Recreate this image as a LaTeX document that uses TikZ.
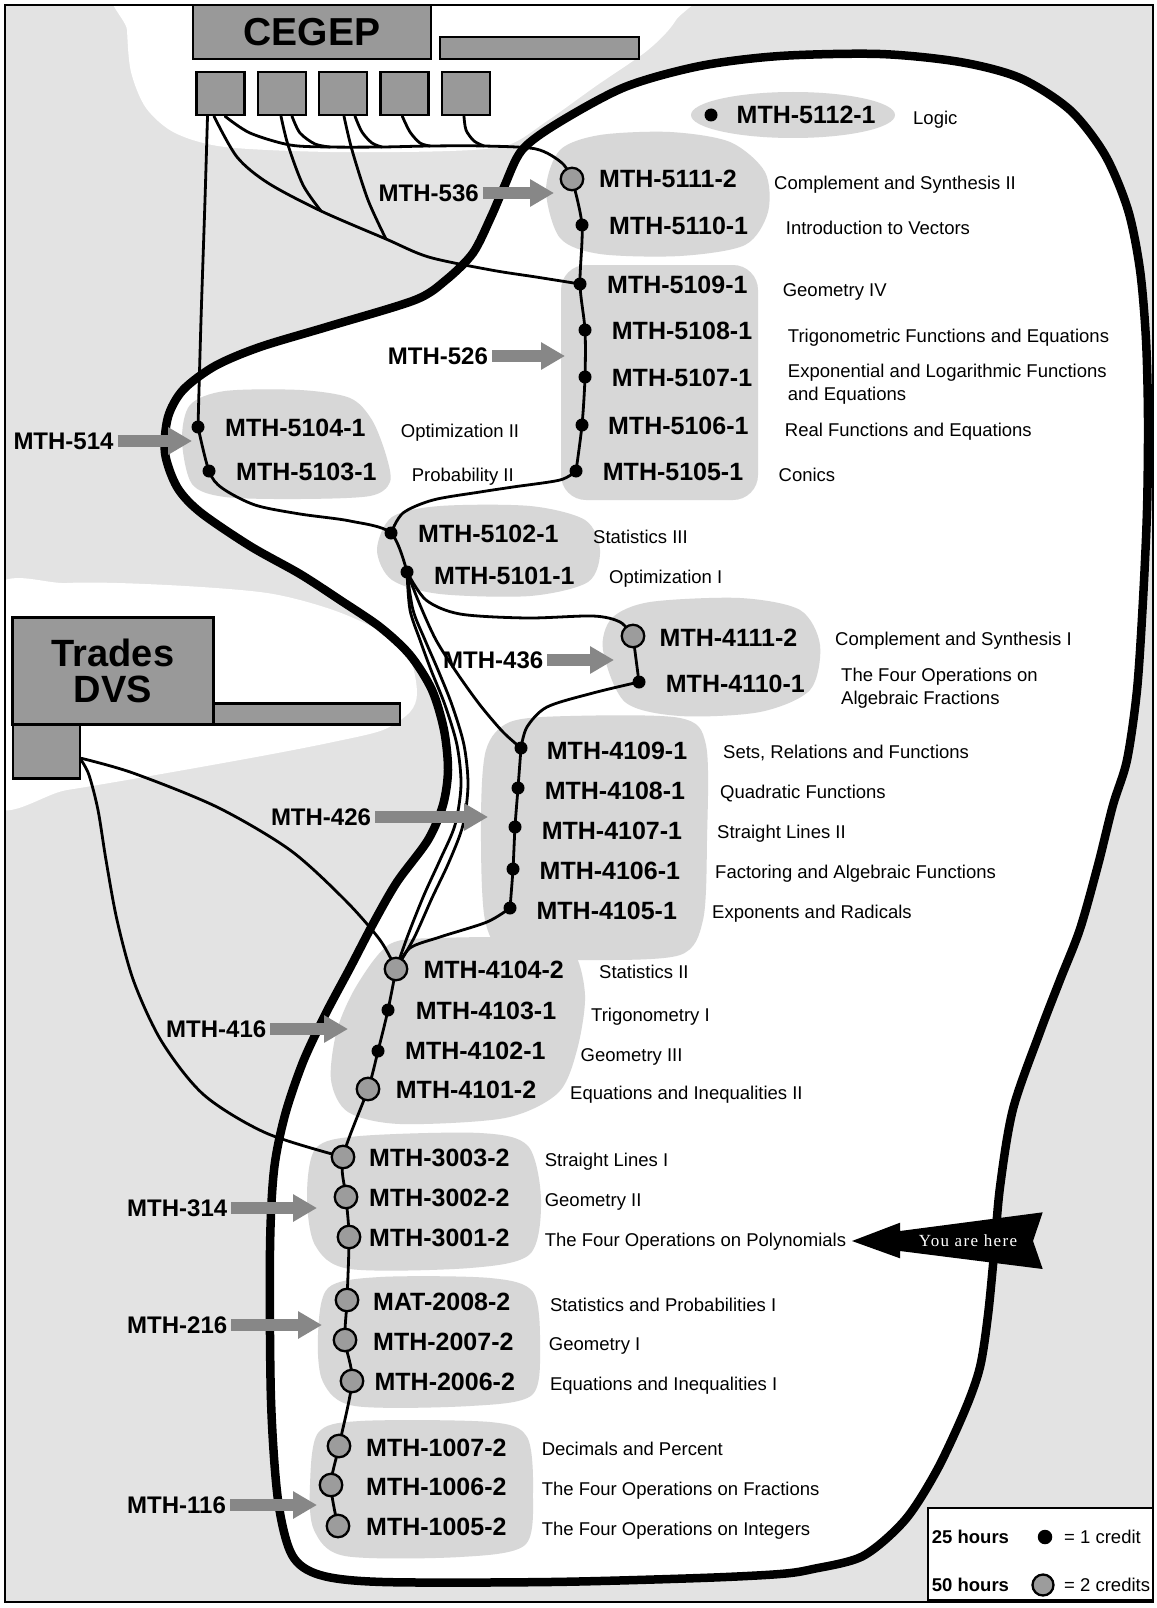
\documentclass[tikz,border=0pt]{standalone}
\usepackage{fontspec}
\setmainfont{Liberation Sans}
\newfontfamily\yahfont[LetterSpace=8]{Liberation Serif}
\usetikzlibrary{arrows.meta,calc}
\definecolor{bgg}{HTML}{E3E3E3}
\definecolor{blobg}{HTML}{D7D7D7}
\definecolor{boxg}{HTML}{999999}
\definecolor{arrg}{HTML}{878787}
\definecolor{dotg}{HTML}{9C9C9C}
\pgfdeclarelayer{bg}
\pgfdeclarelayer{lines}
\pgfsetlayers{bg,lines,main}
\begin{document}
\begin{tikzpicture}[x=1pt,y=-1pt,
  bdot/.style={circle,fill=black,inner sep=0pt,minimum size=13pt},
  gdot/.style={circle,fill=dotg,draw=black,line width=2.3pt,inner sep=0pt,minimum size=22.5pt},
  cdlab/.style={anchor=base west,inner sep=0pt,font=\fontsize{25}{30}\selectfont\bfseries},
  dslab/.style={anchor=base west,inner sep=0pt,font=\fontsize{18.5}{22.5}\selectfont},
  arlab/.style={anchor=base west,inner sep=0pt,font=\fontsize{24}{28}\selectfont\bfseries},
  cline/.style={line width=2.8pt,line join=round,line cap=round},
  garrow/.style={draw=arrg,line width=12pt,-{Triangle[length=24pt,width=26pt]}},
  blobf/.style={fill=blobg},
  gbox/.style={draw=black,fill=boxg,line width=2.5pt,inner sep=0pt}]
\useasboundingbox (0,0) rectangle (1156,1608);

% ---------- boxes ----------
\node[gbox,minimum width=238pt,minimum height=54pt,font=\fontsize{39}{39}\selectfont\bfseries] (cegep) at (312,32) {CEGEP};
\node[gbox,minimum width=199pt,minimum height=22pt] (cbar) at (539.5,48) {};
\node[gbox,minimum width=48pt,minimum height=43pt] (cb1) at (220.5,93.5) {};
\node[gbox,minimum width=48pt,minimum height=43pt] (cb2) at (282,93.5) {};
\node[gbox,minimum width=48pt,minimum height=43pt] (cb3) at (343,93.5) {};
\node[gbox,minimum width=48pt,minimum height=43pt] (cb4) at (404.3,93.5) {};
\node[gbox,minimum width=48pt,minimum height=43pt] (cb5) at (466,93.5) {};
\node[gbox,minimum width=200.6pt,minimum height=106.6pt,align=center,font=\fontsize{38}{36.7}\selectfont\bfseries] (trades) at (113,671) {Trades\\DVS};
\node[gbox,minimum width=186.7pt,minimum height=21pt] (tbar) at (306.7,713.8) {};
\node[gbox,minimum width=67.3pt,minimum height=54pt] (dvs) at (46.4,751.3) {};

% ---------- course dots ----------
\node[bdot] (c5112) at (711,115) {};
\node[gdot] (c5111) at (572,179) {};
\node[bdot] (c5110) at (582,225) {};
\node[bdot] (c5109) at (580,284) {};
\node[bdot] (c5108) at (585,330) {};
\node[bdot] (c5107) at (585,377) {};
\node[bdot] (c5106) at (582,425) {};
\node[bdot] (c5105) at (576,471) {};
\node[bdot] (c5104) at (198,427) {};
\node[bdot] (c5103) at (209,471) {};
\node[bdot] (c5102) at (391,533) {};
\node[bdot] (c5101) at (407,572) {};
\node[gdot] (c4111) at (633,636) {};
\node[bdot] (c4110) at (639,682) {};
\node[bdot] (c4109) at (521,748) {};
\node[bdot] (c4108) at (518,788) {};
\node[bdot] (c4107) at (515,827) {};
\node[bdot] (c4106) at (513,869) {};
\node[bdot] (c4105) at (510,908) {};
\node[gdot] (c4104) at (396,969) {};
\node[bdot] (c4103) at (388,1010) {};
\node[bdot] (c4102) at (378,1051) {};
\node[gdot] (c4101) at (368,1089) {};
\node[gdot] (c3003) at (343,1157) {};
\node[gdot] (c3002) at (346,1197) {};
\node[gdot] (c3001) at (349,1237) {};
\node[gdot] (c2008) at (347,1300) {};
\node[gdot] (c2007) at (345,1340) {};
\node[gdot] (c2006) at (352,1381) {};
\node[gdot] (c1007) at (339,1446) {};
\node[gdot] (c1006) at (331,1485) {};
\node[gdot] (c1005) at (338,1526) {};

% ---------- course codes ----------
\node[cdlab] (l5112) at (736.5,124) {MTH-5112-1};
\node[cdlab] (l5111) at (599,188) {MTH-5111-2};
\node[cdlab] (l5110) at (609,234) {MTH-5110-1};
\node[cdlab] (l5109) at (607,293) {MTH-5109-1};
\node[cdlab] (l5108) at (611.7,339) {MTH-5108-1};
\node[cdlab] (l5107) at (611.7,386) {MTH-5107-1};
\node[cdlab] (l5106) at (608,434) {MTH-5106-1};
\node[cdlab] (l5105) at (602.7,480) {MTH-5105-1};
\node[cdlab] (l5104) at (225,436) {MTH-5104-1};
\node[cdlab] (l5103) at (236,480) {MTH-5103-1};
\node[cdlab] (l5102) at (418,542) {MTH-5102-1};
\node[cdlab] (l5101) at (434,584) {MTH-5101-1};
\node[cdlab] (l4111) at (659.5,646) {MTH-4111-2};
\node[cdlab] (l4110) at (665.7,692) {MTH-4110-1};
\node[cdlab] (l4109) at (546.7,759) {MTH-4109-1};
\node[cdlab] (l4108) at (544.6,799) {MTH-4108-1};
\node[cdlab] (l4107) at (541.6,839) {MTH-4107-1};
\node[cdlab] (l4106) at (539.5,879) {MTH-4106-1};
\node[cdlab] (l4105) at (536.4,919) {MTH-4105-1};
\node[cdlab] (l4104) at (423.3,978) {MTH-4104-2};
\node[cdlab] (l4103) at (415.7,1019) {MTH-4103-1};
\node[cdlab] (l4102) at (405,1059) {MTH-4102-1};
\node[cdlab] (l4101) at (395.7,1098) {MTH-4101-2};
\node[cdlab] (l3003) at (369,1166) {MTH-3003-2};
\node[cdlab] (l3002) at (369,1206) {MTH-3002-2};
\node[cdlab] (l3001) at (369,1246) {MTH-3001-2};
\node[cdlab] (l2008) at (373,1310) {MAT-2008-2};
\node[cdlab] (l2007) at (373,1350) {MTH-2007-2};
\node[cdlab] (l2006) at (374.4,1390) {MTH-2006-2};
\node[cdlab] (l1007) at (366,1456) {MTH-1007-2};
\node[cdlab] (l1006) at (366,1495) {MTH-1006-2};
\node[cdlab] (l1005) at (366,1535) {MTH-1005-2};

% ---------- descriptions ----------
\node[dslab] (d5112) at (913,124.6) {Logic};
\node[dslab] (d5111) at (774,189.2) {Complement and Synthesis II};
\node[dslab] (d5110) at (785.7,234.3) {Introduction to Vectors};
\node[dslab] (d5109) at (782.6,296.6) {Geometry IV};
\node[dslab] (d5108) at (787.7,342) {Trigonometric Functions and Equations};
\node[dslab,anchor=north west,align=left] (d5107) at (787.7,364.3) {Exponential and Logarithmic Functions\\and Equations};
\node[dslab] (d5106) at (784.7,436.4) {Real Functions and Equations};
\node[dslab] (d5105) at (778.5,481.6) {Conics};
\node[dslab] (d5104) at (400.7,437.3) {Optimization II};
\node[dslab] (d5103) at (411.7,481.6) {Probability II};
\node[dslab] (d5102) at (593,543.1) {Statistics III};
\node[dslab] (d5101) at (609,583.1) {Optimization I};
\node[dslab] (d4111) at (835,645.6) {Complement and Synthesis I};
\node[dslab,anchor=north west,align=left] (d4110) at (841,668.3) {The Four Operations on\\Algebraic Fractions};
\node[dslab] (d4109) at (723,758.6) {Sets, Relations and Functions};
\node[dslab] (d4108) at (720,798.6) {Quadratic Functions};
\node[dslab] (d4107) at (717,838.6) {Straight Lines II};
\node[dslab] (d4106) at (715,878.6) {Factoring and Algebraic Functions};
\node[dslab] (d4105) at (712,918.6) {Exponents and Radicals};
\node[dslab] (d4104) at (599,978.1) {Statistics II};
\node[dslab] (d4103) at (591,1021) {Trigonometry I};
\node[dslab] (d4102) at (580.5,1061) {Geometry III};
\node[dslab] (d4101) at (570,1099) {Equations and Inequalities II};
\node[dslab] (d3003) at (544.6,1166.6) {Straight Lines I};
\node[dslab] (d3002) at (544.6,1206.6) {Geometry II};
\node[dslab] (d3001) at (544.6,1246.6) {The Four Operations on Polynomials};
\node[dslab] (d2008) at (549.8,1311.3) {Statistics and Probabilities I};
\node[dslab] (d2007) at (548.7,1350.3) {Geometry I};
\node[dslab] (d2006) at (549.8,1390.3) {Equations and Inequalities I};
\node[dslab] (d1007) at (541.6,1455.9) {Decimals and Percent};
\node[dslab] (d1006) at (541.6,1495.9) {The Four Operations on Fractions};
\node[dslab] (d1005) at (541.6,1535.9) {The Four Operations on Integers};

% ---------- arrow labels and gray arrows ----------
\node[arlab] (a536) at (378.5,201.6) {MTH-536};
\node[arlab] (a526) at (387.7,364.6) {MTH-526};
\node[arlab] (a514) at (13.3,449.6) {MTH-514};
\node[arlab] (a436) at (443,668.6) {MTH-436};
\node[arlab] (a426) at (270.8,825.6) {MTH-426};
\node[arlab] (a416) at (166,1037.6) {MTH-416};
\node[arlab] (a314) at (127,1216.6) {MTH-314};
\node[arlab] (a216) at (127,1333.6) {MTH-216};
\node[arlab] (a116) at (127,1513.6) {MTH-116};
\coordinate (t536) at (554,193);
\coordinate (t526) at (565,356);
\coordinate (t514) at (192,441);
\coordinate (t436) at (614,660);
\coordinate (t426) at (488,817);
\coordinate (t416) at (348,1029);
\coordinate (t314) at (317,1208);
\coordinate (t216) at (322,1325);
\coordinate (t116) at (317,1505);
\foreach \k in {536,526,514,436,426,416,314,216,116}{
  \draw[garrow] ($(t\k -| a\k.east)+(4,0)$) -- (t\k);
}

% ---------- you are here ----------
\fill[black] (852,1241) -- (900,1222.7) -- (900,1231) -- (1042.7,1212.3) -- (1033,1241)
  -- (1042.7,1269) -- (900,1251) -- (900,1258.3) -- cycle;
\node[text=white,inner sep=0pt,font=\yahfont\fontsize{17}{20}\selectfont] (yah) at (968,1241) {You are here};

% ---------- legend ----------
\node[draw=black,line width=2pt,fill=white,minimum width=225pt,minimum height=92pt,inner sep=0pt] (legend) at (1040.5,1554) {};
\node[dslab,font=\fontsize{18.5}{22}\selectfont\bfseries] (h25) at (931.7,1543.3) {25 hours};
\node[bdot,minimum size=14.5pt] (k1) at (1045,1537) {};
\node[dslab] (e1) at (1064,1543.3) {= 1 credit};
\node[dslab,font=\fontsize{18.5}{22}\selectfont\bfseries] (h50) at (931.7,1591.6) {50 hours};
\node[gdot,minimum size=21pt] (k2) at (1043,1585) {};
\node[dslab] (e2) at (1064,1591.6) {= 2 credits};

% ---------- connector start points and junctions ----------
\coordinate (s1a) at ($(cb1.south)+(-13,0)$);
\coordinate (s1b) at ($(cb1.south)+(-6.5,0)$);
\coordinate (s1c) at ($(cb1.south)+(4.5,0)$);
\coordinate (s2a) at ($(cb2.south)+(-1,0)$);
\coordinate (s2b) at ($(cb2.south)+(10,0)$);
\coordinate (s3a) at ($(cb3.south)+(1,0)$);
\coordinate (s3b) at ($(cb3.south)+(12,0)$);
\coordinate (s4) at ($(cb4.south)+(-2,0)$);
\coordinate (s5) at ($(cb5.south)+(-2,0)$);
\coordinate (sd1) at ($(dvs.east)+(0,7)$);
\coordinate (sd2) at ($(dvs.east)+(0,9)$);
\coordinate (jb1) at (321,211);
\coordinate (jb2) at (386,239);
\coordinate (jc1) at (330,147);
\coordinate (jc2) at (382,147);
\coordinate (jc3) at (430,146);
\coordinate (jc4) at (484,146);

\begin{pgfonlayer}{lines}
\draw[cline] plot[smooth] coordinates {(s1a) (205,200) (201,320) (c5104)};
\draw[cline] plot[smooth] coordinates {(s1b) (237,157) (268,183) (jb1) (jb2) (428.6,257) (491,270) (536,277) (c5109)};
\draw[cline] plot[smooth] coordinates {(s1c) (250,133) (290,145) (jc1) (jc2) (jc3) (jc4) (536,149) (562,163) (c5111)};
\draw[cline] plot[smooth] coordinates {(s2a) (288,145) (303,185) (jb1)};
\draw[cline] plot[smooth] coordinates {(s2b) (300,133) (315,144) (jc1)};
\draw[cline] plot[smooth] coordinates {(s3a) (352,150) (368,200) (jb2)};
\draw[cline] plot[smooth] coordinates {(s3b) (362,132) (372,143) (jc2)};
\draw[cline] plot[smooth] coordinates {(s4) (410,132) (420,143) (jc3)};
\draw[cline] plot[smooth] coordinates {(s5) (466,130) (474,141) (jc4)};
\draw[cline] plot[smooth] coordinates {(c5111) (c5110) (c5109) (c5108) (c5107) (c5106) (c5105)};
\draw[cline] plot[smooth] coordinates {(c5105) (560,480) (513,487) (480,492) (433,500) (403,513) (c5102)};
\draw[cline] plot[smooth] coordinates {(c5104) (c5103) (222,488) (255,505) (300,514) (350,521) (c5102) (c5101)};
\draw[cline] plot[smooth] coordinates {(c5101) (426,600) (460,614) (527,618) (593,616) (620,622) (c4111)};
\draw[cline] (c4111) -- (c4110);
\draw[cline] plot[smooth] coordinates {(c5101) (420,605) (436,640) (457,673) (480,705) (503,732) (c4109)};
\draw[cline] plot[smooth] coordinates {(c5101) (410,610) (420,640) (431,670) (445,705) (457,745) (461,785) (455,825) (440,860) (424,895) (408,935) (c4104)};
\draw[cline] plot[smooth] coordinates {(c5101) (413,610) (425,640) (438,670) (452,705) (464,745) (468,785) (463,825) (449,862) (432,898) (414,938) (c4104)};
\draw[cline] plot[smooth] coordinates {(c4110) (593,693) (547,707) (527,727) (c4109)};
\draw[cline] plot[smooth] coordinates {(c4109) (c4108) (c4107) (c4106) (c4105)};
\draw[cline] plot[smooth] coordinates {(c4105) (487,922) (440,937) (410,948) (c4104)};
\draw[cline] plot[smooth] coordinates {(c4104) (c4103) (c4102) (c4101) (c3003) (c3002) (c3001) (c2008) (c2007) (c2006) (c1007) (c1006) (c1005)};
\draw[cline] plot[smooth] coordinates {(sd1) (133,773) (217,807) (290,850) (345,900) (380,940) (c4104)};
\draw[cline] plot[smooth] coordinates {(sd2) (89,775) (98,810) (106,860) (117,920) (134,982) (162,1042) (204,1095) (266,1133) (c3003)};
\end{pgfonlayer}

% ---------- background ----------
\begin{pgfonlayer}{bg}
\fill[white] (0,0) rectangle (1156,1608);
\fill[bgg] (5,5) rectangle (1153,1602);
\begin{scope}
\clip (5,5) rectangle (1153,1602);
\fill[white] plot[smooth cycle] coordinates {(126,-20) (400,-20) (690,-20) (676,20) (648,50) (596,86) (547,121) (508,145) (450,151) (330,152) (225,147) (175,133) (146,108) (131,72) (127,30)};
\fill[white] plot[smooth cycle] coordinates {(-10,595) (67,583) (167,585) (267,593) (333,610) (383,633) (410,660) (417,693) (410,712) (383,730) (333,742) (267,755) (167,773) (67,790) (-10,800)};
\end{scope}
\filldraw[fill=white,draw=black,line width=8.5pt,line join=round] plot[smooth cycle] coordinates {
 (700,66) (780,56) (880,54) (960,62) (1020,78) (1070,110) (1105,155) (1128,210) (1140,270)
 (1146,340) (1148,420) (1147,510) (1143,600) (1137,690) (1127,760) (1113,805) (1098,865)
 (1080,929) (1060,980) (1040,1032) (1013,1109) (1000,1187) (994,1254) (988,1315) (980,1367)
 (965,1410) (937,1470) (905,1520) (863,1556) (813,1569) (780,1574) (700,1578) (550,1582)
 (383,1582) (320,1575) (292,1555) (278,1500) (271,1400) (270,1250) (274,1170) (285,1115)
 (303,1062) (325,1015) (350,968) (374,922) (397,882) (428,840) (443,805) (448,770) (444,730)
 (432,690) (410,655) (380,627) (340,600) (300,574) (250,546) (200,512) (177,487) (165,453)
 (168,417) (183,390) (215,366) (260,347) (330,326) (415,300) (446,280) (473,253) (491,217)
 (504,187) (522,150) (558,123) (625,87)};
\fill[blobf] (793,115) ellipse [x radius=102, y radius=23];
\fill[blobf] plot[smooth cycle] coordinates {(546,190) (560,150) (600,135) (670,132) (730,142) (765,172) (768,212) (745,245) (680,256) (600,254) (560,238)};
\fill[blobf,rounded corners=25pt] (561,265) rectangle (758,500);
\fill[blobf] plot[smooth cycle] coordinates {(182,440) (190,405) (225,391) (300,390) (350,398) (372,420) (386,455) (390,482) (370,496) (300,499) (225,497) (192,484)};
\fill[blobf] plot[smooth cycle] coordinates {(377,550) (392,517) (440,506) (530,506) (585,520) (600,550) (588,582) (530,596) (440,594) (392,580)};
\fill[blobf] plot[smooth cycle] coordinates {(603,650) (612,618) (650,602) (740,598) (800,610) (820,645) (810,690) (760,712) (680,716) (625,702)};
\fill[blobf] plot[smooth cycle] coordinates {(481,820) (486,750) (510,722) (570,716) (680,718) (706,745) (707,840) (703,920) (680,955) (590,960) (510,955) (485,920)};
\fill[blobf] plot[smooth cycle] coordinates {(390,944) (440,938) (530,938) (572,950) (585,995) (577,1050) (558,1093) (505,1118) (400,1124) (348,1112) (331,1080) (337,1030) (357,985)};
\fill[blobf] plot[smooth cycle] coordinates {(307,1195) (316,1148) (360,1136) (480,1133) (528,1146) (541,1200) (530,1254) (470,1268) (350,1269) (315,1245)};
\fill[blobf] plot[smooth cycle] coordinates {(318,1335) (328,1288) (380,1277) (490,1278) (533,1292) (540,1345) (532,1395) (470,1406) (355,1406) (323,1382)};
\fill[blobf] plot[smooth cycle] coordinates {(310,1485) (318,1433) (360,1421) (490,1422) (527,1437) (533,1492) (525,1545) (460,1557) (345,1556) (314,1530)};
\draw[line width=2.5pt] (5,5) rectangle (1153,1602);
\end{pgfonlayer}
\end{tikzpicture}
\end{document}
